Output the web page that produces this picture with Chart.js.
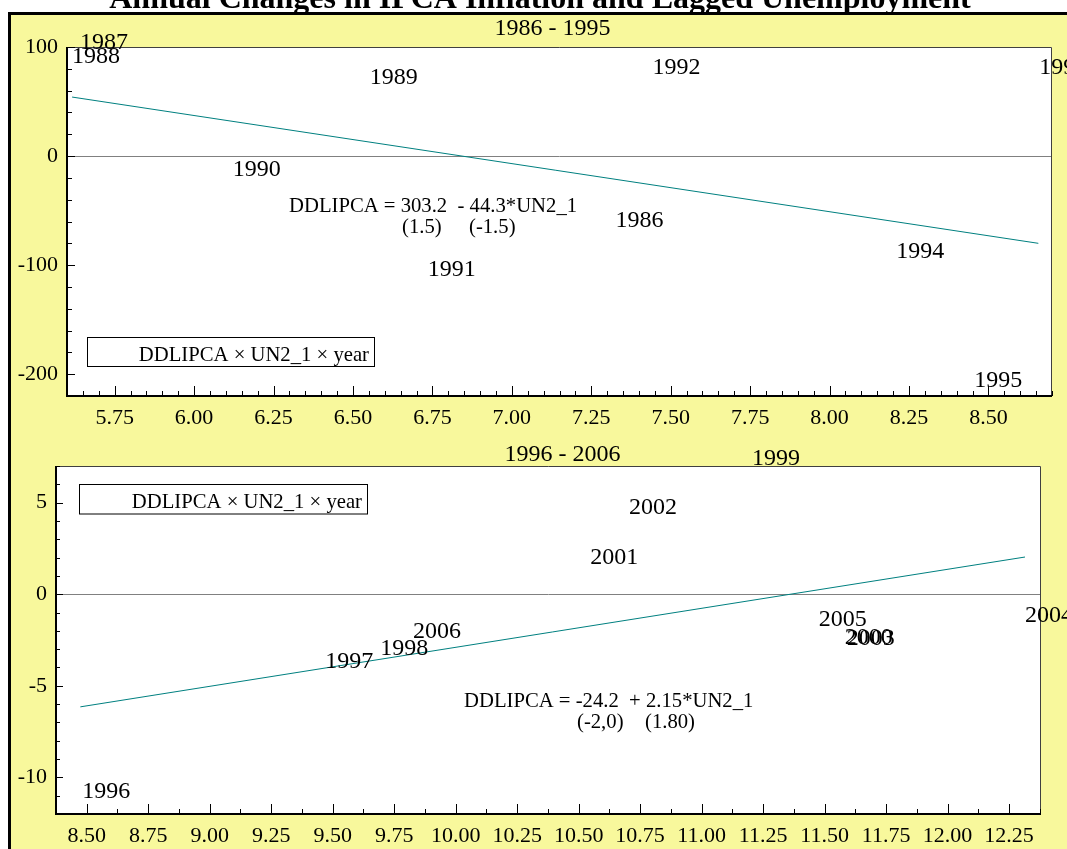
<!DOCTYPE html>
<html><head><meta charset="utf-8">
<script src="https://cdn.jsdelivr.net/npm/chart.js@4.4.1/dist/chart.umd.min.js"></script>
<style>
html,body{margin:0;padding:0;background:#fff;width:1067px;height:849px;overflow:hidden;}
#frame{position:absolute;left:8px;top:12px;width:1100px;height:900px;background:#f8f89c;}
canvas{position:absolute;left:0;top:0;}
</style></head><body>
<div id="frame"></div>
<canvas id="c1" width="1067" height="849"></canvas>
<canvas id="c2" width="1067" height="849"></canvas>
<script>
const mainTitle = "Annual Changes in IPCA Inflation and Lagged Unemployment";

// ---- Panel 1: 1986 - 1995 ----
const years1 = ["1986","1987","1988","1989","1990","1991","1992","1993","1994","1995"];
const un1    = [7.326, 5.641, 5.616, 6.553, 6.122, 6.735, 7.443, 8.660, 8.210, 8.455];
const dd1    = [-65.0, 97.9, 85.0, 66.1, -18.3, -110.0, 75.2, 75.2, -93.5, -211.6];
const fit1X  = [5.616, 8.657];
const fit1Y  = [54.1, -80.0];
const xTicks1 = [5.75, 6.00, 6.25, 6.50, 6.75, 7.00, 7.25, 7.50, 7.75, 8.00, 8.25, 8.50];
const yTicks1 = [-200, -100, 0, 100];

// ---- Panel 2: 1996 - 2006 ----
const years2 = ["1996","1997","1998","1999","2000","2001","2002","2003","2004","2005","2006"];
const un2    = [8.482, 9.470, 9.693, 11.205, 11.582, 10.547, 10.705, 11.590, 12.315, 11.476, 9.827];
const dd2    = [-11.14, -4.03, -3.32, 7.05, -2.72, 1.65, 4.38, -2.80, -1.50, -1.73, -2.39];
const fit2X  = [8.474, 12.315];
const fit2Y  = [-6.15, 2.03];
const xTicks2 = [8.50, 8.75, 9.00, 9.25, 9.50, 9.75, 10.00, 10.25, 10.50, 10.75, 11.00, 11.25, 11.50, 11.75, 12.00, 12.25];
const yTicks2 = [-10, -5, 0, 5];

const SERIF = '"Liberation Serif", "Times New Roman", serif';

const panelPlugin = {
  id: 'panel',
  beforeDraw(chart, args, o) {
    const ctx = chart.ctx, a = chart.chartArea;
    ctx.save();
    ctx.fillStyle = '#fff';
    ctx.fillRect(a.left, a.top, a.right - a.left, a.bottom - a.top);
    ctx.restore();
  },
  beforeDatasetsDraw(chart, args, o) {
    const ctx = chart.ctx, a = chart.chartArea;
    const y0 = Math.round(chart.scales.y.getPixelForValue(0)) + 0.5;
    ctx.save();
    ctx.strokeStyle = '#808080'; ctx.lineWidth = 1;
    ctx.beginPath(); ctx.moveTo(a.left, y0); ctx.lineTo(a.right, y0); ctx.stroke();
    ctx.restore();
  },
  afterDatasetsDraw(chart, args, o) {
    const ctx = chart.ctx, a = chart.chartArea;
    const xs = chart.scales.x, ys = chart.scales.y;
    ctx.save();
    // plot frame
    ctx.strokeStyle = '#404040'; ctx.lineWidth = 1;
    ctx.beginPath();
    ctx.moveTo(a.left, a.top + 0.5); ctx.lineTo(a.right - 0.5, a.top + 0.5); ctx.lineTo(a.right - 0.5, a.bottom);
    ctx.stroke();
    ctx.strokeStyle = '#000'; ctx.lineWidth = 2;
    ctx.beginPath();
    ctx.moveTo(a.left, a.top); ctx.lineTo(a.left, a.bottom); ctx.lineTo(a.right, a.bottom);
    ctx.stroke();
    // ticks
    ctx.lineWidth = 1; ctx.strokeStyle = '#000';
    const nx = Math.round((xs.max - o.xMinorStart) / o.xMinorStep);
    for (let i = 0; i <= nx; i++) {
      const v = o.xMinorStart + i * o.xMinorStep;
      const major = o.xMajor.some(t => Math.abs(t - v) < 1e-6);
      const p = Math.round(xs.getPixelForValue(v)) + 0.5;
      const len = major ? o.xMajorLen : o.xMinorLen;
      ctx.beginPath(); ctx.moveTo(p, a.bottom); ctx.lineTo(p, a.bottom - len); ctx.stroke();
    }
    const ny = Math.round((ys.max - o.yMinorStart) / o.yMinorStep);
    for (let i = 0; i <= ny; i++) {
      const v = o.yMinorStart + i * o.yMinorStep;
      const major = o.yMajor.some(t => Math.abs(t - v) < 1e-6);
      const p = Math.round(ys.getPixelForValue(v)) + 0.5;
      const len = major ? o.yMajorLen : o.yMinorLen;
      ctx.beginPath(); ctx.moveTo(a.left, p); ctx.lineTo(a.left + len, p); ctx.stroke();
    }
    // year labels at data points (bottom-left anchored)
    ctx.fillStyle = '#000';
    ctx.font = '24px ' + SERIF;
    ctx.textAlign = 'left'; ctx.textBaseline = 'alphabetic';
    const meta = chart.getDatasetMeta(0);
    meta.data.forEach((pt, i) => ctx.fillText(o.labels[i], pt.x, pt.y));
    // legend box
    const L = o.legend;
    ctx.lineWidth = 1; ctx.strokeStyle = '#000';
    ctx.strokeRect(L.x + 0.5, L.y + 0.5, L.w, L.h);
    ctx.font = '20.7px ' + SERIF;
    ctx.textAlign = 'right';
    ctx.fillText('DDLIPCA \u00d7 UN2_1 \u00d7 year', L.tx, L.ty);
    // equation
    ctx.textAlign = 'left';
    o.eq.forEach(e => ctx.fillText(e.t, e.x, e.y));
    // subtitle
    ctx.font = '24px ' + SERIF;
    ctx.textAlign = 'center';
    ctx.fillText(o.sub.t, o.sub.x, o.sub.y);
    if (o.mainTitle) {
      ctx.font = 'bold 32px ' + SERIF;
      ctx.fillText(o.mainTitle, 540, 7.5);
      ctx.fillStyle = '#000';
      ctx.fillRect(8, 12, 1059, 3);
      ctx.fillRect(8, 12, 3, 837);
    }
    ctx.restore();
  }
};

function makeChart(id, cfg) {
  return new Chart(document.getElementById(id), {
    type: 'scatter',
    data: {
      datasets: [
        { data: cfg.xv.map((x, i) => ({ x: x, y: cfg.yv[i] })), pointRadius: 0, showLine: false },
        { data: cfg.fx.map((x, i) => ({ x: x, y: cfg.fy[i] })), showLine: true, pointRadius: 0,
          borderColor: '#008080', borderWidth: 1, fill: false }
      ]
    },
    options: {
      responsive: false, animation: false, events: [],
      devicePixelRatio: 1,
      layout: { padding: cfg.padding },
      plugins: { legend: { display: false }, tooltip: { enabled: false }, panel: cfg.panel },
      scales: {
        x: {
          type: 'linear', min: cfg.xmin, max: cfg.xmax,
          afterBuildTicks: s => { s.ticks = cfg.xTicks.map(v => ({ value: v })); },
          afterFit: s => { s.height = cfg.xh; },
          grid: { display: false, drawTicks: false }, border: { display: false },
          ticks: { autoSkip: false, maxRotation: 0, padding: 9, color: '#000',
                   font: { family: SERIF, size: 22 }, callback: v => Number(v).toFixed(2) }
        },
        y: {
          type: 'linear', min: cfg.ymin, max: cfg.ymax,
          afterBuildTicks: s => { s.ticks = cfg.yTicks.map(v => ({ value: v })); },
          afterFit: s => { s.width = cfg.yw; },
          grid: { display: false, drawTicks: false }, border: { display: false },
          ticks: { autoSkip: false, padding: 9, color: '#000',
                   font: { family: SERIF, size: 22 }, callback: v => String(v) }
        }
      }
    },
    plugins: [panelPlugin]
  });
}

makeChart('c1', {
  xv: un1, yv: dd1, fx: fit1X, fy: fit1Y, xTicks: xTicks1, yTicks: yTicks1,
  xmin: 5.6, xmax: 8.7, ymin: -220, ymax: 100,
  padding: { left: 17, top: 47, right: 15, bottom: 413 }, yw: 50, xh: 40,
  panel: {
    labels: years1, mainTitle: mainTitle,
    xMinorStart: 5.6, xMinorStep: 0.05, xMajor: xTicks1, xMajorLen: 10, xMinorLen: 5,
    yMinorStart: -220, yMinorStep: 20, yMajor: yTicks1, yMajorLen: 8, yMinorLen: 5,
    legend: { x: 87, y: 337, w: 287, h: 29, tx: 369, ty: 361 },
    eq: [ { t: 'DDLIPCA = 303.2  - 44.3*UN2_1', x: 289, y: 211.5 },
          { t: '(1.5)', x: 402, y: 233 }, { t: '(-1.5)', x: 469, y: 233 } ],
    sub: { t: '1986 - 1995', x: 552.5, y: 35 }
  }
});

makeChart('c2', {
  xv: un2, yv: dd2, fx: fit2X, fy: fit2Y, xTicks: xTicks2, yTicks: yTicks2,
  xmin: 8.375, xmax: 12.38, ymin: -12, ymax: 7,
  padding: { left: 16, top: 466, right: 26, bottom: 0 }, yw: 40, xh: 35,
  panel: {
    labels: years2,
    xMinorStart: 8.375, xMinorStep: 0.125, xMajor: xTicks2, xMajorLen: 10, xMinorLen: 5,
    yMinorStart: -12, yMinorStep: 1, yMajor: yTicks2, yMajorLen: 7, yMinorLen: 4,
    legend: { x: 79, y: 484, w: 288, h: 29.5, tx: 362, ty: 508 },
    eq: [ { t: 'DDLIPCA = -24.2  + 2.15*UN2_1', x: 464, y: 706.5 },
          { t: '(-2,0)', x: 577, y: 728 }, { t: '(1.80)', x: 645, y: 728 } ],
    sub: { t: '1996 - 2006', x: 562.5, y: 461 }
  }
});
</script>
</body></html>
